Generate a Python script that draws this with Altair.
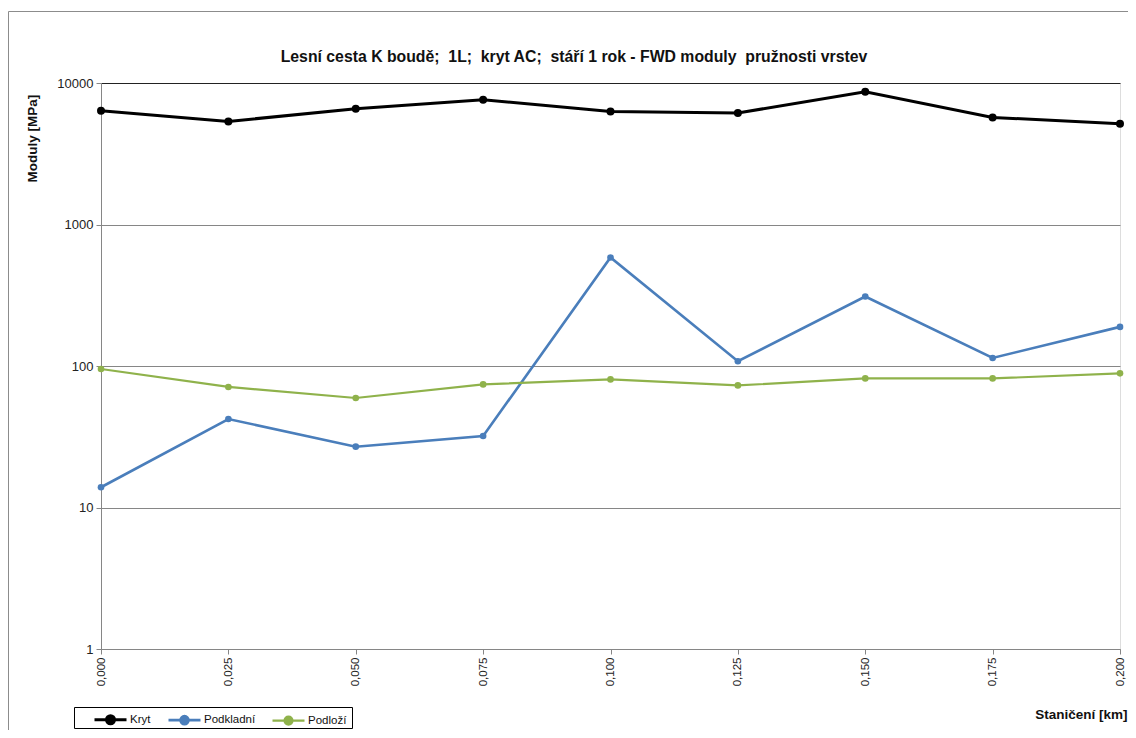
import altair as alt
import pandas as pd

stations = [0.000, 0.025, 0.050, 0.075, 0.100, 0.125, 0.150, 0.175, 0.200]
kryt = [6370, 5350, 6580, 7620, 6300, 6140, 8680, 5710, 5160]
podkladni = [13.9, 42.2, 26.9, 32.0, 585, 108, 310, 114, 189]
podlozi = [95.2, 71.1, 59.4, 74.1, 80.4, 72.9, 81.7, 81.7, 88.7]
series = ["Kryt", "Podkladní", "Podloží"]
colors = ["#000000", "#4A7EBB", "#8FB24B"]
y_ticks = [1, 10, 100, 1000, 10000]
title_text = "Lesní cesta K boudě;\u00a0 1L;\u00a0 kryt AC;\u00a0 stáří 1 rok - FWD moduly\u00a0 pružnosti vrstev"

rows = []
for name, vals in zip(series, [kryt, podkladni, podlozi]):
    for s, v in zip(stations, vals):
        rows.append({"Staničení": s, "Modul": v, "Vrstva": name})
df = pd.DataFrame(rows)

W, H = 1019, 566
FONT = "Liberation Sans"

sym_path = "M-1,0H1M0.25,0A0.25,0.25 0 1,1 -0.25,0A0.25,0.25 0 1,1 0.25,0Z"

x_enc = alt.X(
    "Staničení:Q",
    scale=alt.Scale(domain=[0, 0.2], nice=False, zero=False),
    axis=alt.Axis(
        values=stations,
        labelExpr="replace(format(datum.value, '.3f'), '.', ',')",
        labelAngle=270,
        labelFont=FONT, labelFontSize=11.5, labelColor="#222222",
        labelPadding=3,
        domainColor="#868686", tickColor="#868686", tickSize=5,
        grid=False,
        title="Staničení [km]",
        titleFont=FONT, titleFontSize=13.5, titleFontWeight="bold", titleColor="#111111",
        titleAnchor="end", titleAlign="right", titleBaseline="middle",
        titleX=1026, titleY=65,
    ),
)
y_enc = alt.Y(
    "Modul:Q",
    scale=alt.Scale(type="log", domain=[1, 10000], nice=False),
    axis=alt.Axis(
        values=y_ticks, format="d",
        labelFont=FONT, labelFontSize=13, labelColor="#222222", labelPadding=3,
        domainColor="#868686", tickColor="#868686", tickSize=5,
        grid=True,
        gridColor=alt.condition("datum.value == 10000", alt.value("#222222"), alt.value("#868686")),
        title="Moduly [MPa]",
        titleFont=FONT, titleFontSize=13.5, titleFontWeight="bold", titleColor="#111111",
        titleAngle=270, titleAlign="center", titleBaseline="bottom",
        titleX=-62, titleY=55,
    ),
)
color_enc = alt.Color(
    "Vrstva:N",
    scale=alt.Scale(domain=series, range=colors),
    legend=alt.Legend(
        title=None, orient="none", direction="horizontal",
        legendX=-8, legendY=619,
        symbolType=sym_path, symbolSize=1024, symbolStrokeWidth=2.5,
        labelFont=FONT, labelFontSize=11.5, labelColor="#111111",
        labelOffset=2, columnPadding=12, padding=0,
    ),
)

base = alt.Chart(df)

lines = base.mark_line().encode(
    x=x_enc, y=y_enc, color=color_enc,
    strokeWidth=alt.StrokeWidth("Vrstva:N", scale=alt.Scale(domain=series, range=[3, 2.2, 2.2]), legend=None),
)
points_kryt = base.transform_filter(alt.datum["Vrstva"] == "Kryt").mark_point(
    filled=True, opacity=1, size=64
).encode(x="Staničení:Q", y="Modul:Q", color=alt.Color("Vrstva:N"))
points_other = base.transform_filter(alt.datum["Vrstva"] != "Kryt").mark_point(
    filled=True, opacity=1, size=44
).encode(x="Staničení:Q", y="Modul:Q", color=alt.Color("Vrstva:N"))

frame_df = pd.DataFrame({"k": [0]})
frame_left = alt.Chart(frame_df).mark_rule(stroke="#8c8c8c", strokeWidth=1).encode(
    x=alt.value(-92.5), y=alt.value(-71.5), y2=alt.value(900)
)
frame_top = alt.Chart(frame_df).mark_rule(stroke="#8c8c8c", strokeWidth=1).encode(
    x=alt.value(-92.5), x2=alt.value(1300), y=alt.value(-71.5)
)
legend_box = alt.Chart(frame_df).mark_rect(fillOpacity=0, stroke="#000000", strokeWidth=1).encode(
    x=alt.value(-26.5), x2=alt.value(251.5), y=alt.value(624.5), y2=alt.value(645.5)
)
title_mark = alt.Chart(frame_df).mark_text(
    font=FONT, fontSize=15.8, fontWeight="bold", color="#111111",
    align="center", baseline="middle",
).encode(x=alt.value(473), y=alt.value(-26), text=alt.value(title_text))

chart = alt.layer(frame_left, frame_top, legend_box, title_mark, lines, points_other, points_kryt).properties(
    width=W, height=H,
    autosize=alt.AutoSizeParams(type="none"),
    padding={"left": 93, "top": 75, "right": 8, "bottom": 81},
).configure_view(stroke="#222222", strokeWidth=1).configure(background="white")

chart.save("out.html", embed_options={"renderer": "svg", "actions": False})
